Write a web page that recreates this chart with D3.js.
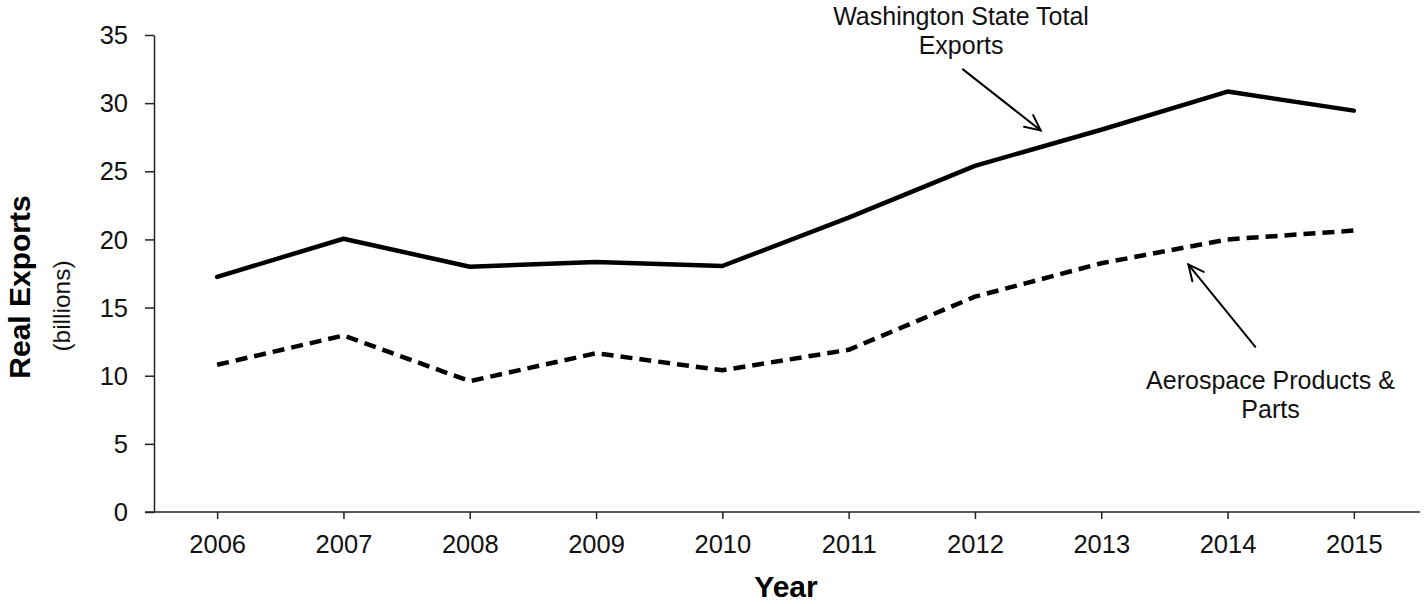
<!DOCTYPE html>
<html>
<head>
<meta charset="utf-8">
<script src="https://cdn.jsdelivr.net/npm/d3@7"></script>
<style>
  html, body { margin: 0; padding: 0; background: #fff; }
  svg { display: block; font-family: "Liberation Sans", Arial, Helvetica, sans-serif; }
</style>
</head>
<body>
<svg id="chart" width="1428" height="604"></svg>
<script>
// Washington State real exports, billions of dollars
const years = [2006, 2007, 2008, 2009, 2010, 2011, 2012, 2013, 2014, 2015];
const totalExports = [17.25, 20.05, 18.0, 18.35, 18.05, 21.6, 25.4, 28.05, 30.85, 29.45];
const aerospaceExports = [10.8, 12.95, 9.6, 11.65, 10.4, 11.9, 15.8, 18.25, 20.0, 20.65];
const yTicks = [0, 5, 10, 15, 20, 25, 30, 35];

// Callout labels, anchored in data space (year, value)
const totalLabelLines = ["Washington State Total", "Exports"];
const aeroLabelLines = ["Aerospace Products &", "Parts"];
const totalArrow = { from: [2011.905, 32.48], to: [2012.52, 28.0], text: [2011.89, 35.71] };
const aeroArrow = { from: [2014.22, 12.12], to: [2013.69, 18.15], text: [2014.34, 9.04] };

const svg = d3.select("#chart");
const plotLeft = 154, plotRight = 1417, plotTop = 35, plotBottom = 512;

const x = d3.scaleLinear().domain([2005.5, 2015.5]).range([plotLeft, plotRight]);
const y = d3.scaleLinear().domain([0, 35]).range([plotBottom, plotTop]);

// Axes
const yAxis = svg.append("g")
  .attr("transform", `translate(${plotLeft},0)`)
  .call(d3.axisLeft(y).tickValues(yTicks).tickSize(9).tickPadding(17).tickSizeOuter(0));
yAxis.select(".domain").attr("stroke", "#222").attr("stroke-width", 1.5);
yAxis.selectAll(".tick line").attr("stroke", "#222").attr("stroke-width", 1.5);
yAxis.selectAll(".tick text")
  .attr("font-size", 25.5).attr("fill", "#111")
  .attr("font-family", "'Liberation Sans', Arial, sans-serif")
  .attr("dy", "0.34em");

const xAxis = svg.append("g")
  .attr("transform", `translate(0,${plotBottom})`)
  .call(d3.axisBottom(x).tickValues(years).tickFormat(d3.format("d")).tickSize(7).tickPadding(16).tickSizeOuter(0));
xAxis.select(".domain").attr("stroke", "#222").attr("stroke-width", 1.5)
  .attr("d", `M${plotLeft - 9},0H${plotRight + 3}`);
xAxis.selectAll(".tick line").attr("stroke", "#222").attr("stroke-width", 1.5);
xAxis.selectAll(".tick text")
  .attr("font-size", 25.5).attr("fill", "#111")
  .attr("font-family", "'Liberation Sans', Arial, sans-serif")
  .attr("dy", "0.71em");

// Axis titles
svg.append("text")
  .attr("transform", "translate(30,287) rotate(-90)")
  .attr("text-anchor", "middle")
  .attr("font-size", 30).attr("font-weight", "bold").attr("fill", "#000")
  .text("Real Exports");
svg.append("text")
  .attr("transform", "translate(70,306) rotate(-90)")
  .attr("text-anchor", "middle")
  .attr("font-size", 24.5).attr("fill", "#111")
  .text("(billions)");
svg.append("text")
  .attr("x", 786).attr("y", 597)
  .attr("text-anchor", "middle")
  .attr("font-size", 30).attr("font-weight", "bold").attr("fill", "#000")
  .text("Year");

// Series lines
const line = d3.line().x((d, i) => x(years[i])).y(d => y(d));

svg.append("path")
  .datum(totalExports)
  .attr("d", line)
  .attr("fill", "none").attr("stroke", "#000")
  .attr("stroke-width", 4.5).attr("stroke-linejoin", "round").attr("stroke-linecap", "round");

svg.append("path")
  .datum(aerospaceExports)
  .attr("d", line)
  .attr("fill", "none").attr("stroke", "#000")
  .attr("stroke-width", 4.5).attr("stroke-dasharray", "12,7").attr("stroke-linejoin", "round");

// Callout arrows with open heads
function arrow(a) {
  const x1 = x(a.from[0]), y1 = y(a.from[1]);
  const x2 = x(a.to[0]), y2 = y(a.to[1]);
  const ang = Math.atan2(y2 - y1, x2 - x1);
  const len = 17, spread = Math.PI / 7;
  const g = svg.append("g").attr("stroke", "#000").attr("stroke-width", 2).attr("fill", "none")
    .attr("stroke-linecap", "round");
  g.append("line").attr("x1", x1).attr("y1", y1).attr("x2", x2).attr("y2", y2);
  g.append("path").attr("d",
    `M${x2 - len * Math.cos(ang - spread)},${y2 - len * Math.sin(ang - spread)}` +
    `L${x2},${y2}` +
    `L${x2 - len * Math.cos(ang + spread)},${y2 - len * Math.sin(ang + spread)}`);
}
arrow(totalArrow);
arrow(aeroArrow);

function callout(lines, pos) {
  const t = svg.append("text")
    .attr("x", x(pos[0])).attr("y", y(pos[1]))
    .attr("text-anchor", "middle")
    .attr("font-size", 25).attr("fill", "#111");
  lines.forEach((s, i) => {
    t.append("tspan").attr("x", x(pos[0])).attr("dy", i === 0 ? 0 : 29).text(s);
  });
}
callout(totalLabelLines, totalArrow.text);
callout(aeroLabelLines, aeroArrow.text);
</script>
</body>
</html>
